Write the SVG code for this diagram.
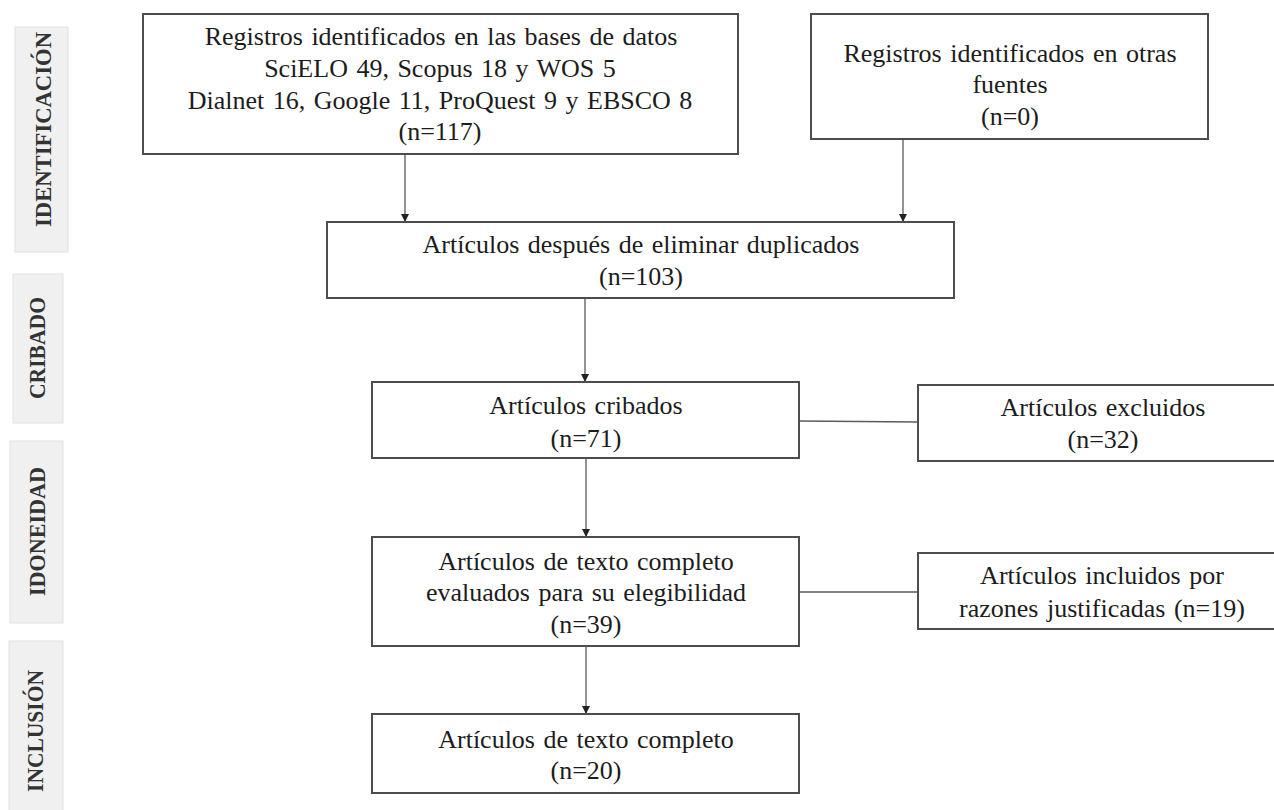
<svg xmlns="http://www.w3.org/2000/svg" width="1274" height="810" viewBox="0 0 1274 810">
  <defs>
    <style>
      .box { fill: #ffffff; stroke: #4d4d4d; stroke-width: 2; }
      .panel { fill: #f0f0f0; stroke: #e2e2e2; stroke-width: 1; }
      .t { font-family: "Liberation Serif", "Times New Roman", serif; font-size: 26px; fill: #1c1c1c; text-anchor: middle; word-spacing: 2px; }
      .p { font-family: "Liberation Serif", "Times New Roman", serif; font-size: 23px; font-weight: bold; fill: #333333; text-anchor: middle; }
      .c { stroke: #5a5a5a; stroke-width: 1.3; fill: none; }
    </style>
    <marker id="arr" markerUnits="userSpaceOnUse" markerWidth="8" markerHeight="8" refX="8" refY="4" orient="auto">
      <path d="M0,0 L8,4 L0,8 z" fill="#222222"/>
    </marker>
  </defs>
  <rect width="1274" height="810" fill="#ffffff"/>

  <g id="phase-identificacion">
    <rect class="panel" x="15" y="27" width="53" height="225"/>
    <text class="p" transform="translate(43,129.5) rotate(-90)" y="8" textLength="195" lengthAdjust="spacingAndGlyphs">IDENTIFICACIÓN</text>
  </g>
  <g id="phase-cribado">
    <rect class="panel" x="13" y="274" width="50" height="149"/>
    <text class="p" transform="translate(37,348) rotate(-90)" y="8" textLength="102" lengthAdjust="spacingAndGlyphs">CRIBADO</text>
  </g>
  <g id="phase-idoneidad">
    <rect class="panel" x="10" y="441" width="53" height="182"/>
    <text class="p" transform="translate(37,531.5) rotate(-90)" y="8" textLength="129" lengthAdjust="spacingAndGlyphs">IDONEIDAD</text>
  </g>
  <g id="phase-inclusion">
    <rect class="panel" x="9" y="641" width="54" height="175"/>
    <text class="p" transform="translate(35,731) rotate(-90)" y="8" textLength="122" lengthAdjust="spacingAndGlyphs">INCLUSIÓN</text>
  </g>

  <g id="connectors">
    <line class="c" x1="405" y1="155" x2="405" y2="222" marker-end="url(#arr)"/>
    <line class="c" x1="903" y1="140" x2="903" y2="222" marker-end="url(#arr)"/>
    <line class="c" x1="585" y1="299" x2="585" y2="382" marker-end="url(#arr)"/>
    <line class="c" x1="586" y1="459" x2="586" y2="537" marker-end="url(#arr)"/>
    <line class="c" x1="586" y1="647" x2="586" y2="714" marker-end="url(#arr)"/>
    <line class="c" x1="799" y1="421" x2="918" y2="422"/>
    <line class="c" x1="799" y1="592" x2="918" y2="592"/>
  </g>

  <g id="node-db">
    <rect class="box" x="143" y="14" width="595" height="140"/>
    <text class="t" x="441" y="45">Registros identificados en las bases de datos</text>
    <text class="t" x="440" y="77">SciELO 49, Scopus 18 y WOS 5</text>
    <text class="t" x="440" y="109">Dialnet 16, Google 11, ProQuest 9 y EBSCO 8</text>
    <text class="t" x="440" y="140">(n=117)</text>
  </g>
  <g id="node-otras">
    <rect class="box" x="811" y="14" width="397" height="125"/>
    <text class="t" x="1010" y="62">Registros identificados en otras</text>
    <text class="t" x="1010" y="93">fuentes</text>
    <text class="t" x="1010" y="125">(n=0)</text>
  </g>
  <g id="node-duplicados">
    <rect class="box" x="327" y="222" width="627" height="76"/>
    <text class="t" x="641" y="253">Artículos después de eliminar duplicados</text>
    <text class="t" x="641" y="285">(n=103)</text>
  </g>
  <g id="node-cribados">
    <rect class="box" x="372" y="382" width="427" height="76"/>
    <text class="t" x="586" y="414">Artículos cribados</text>
    <text class="t" x="586" y="447">(n=71)</text>
  </g>
  <g id="node-excluidos">
    <rect class="box" x="918" y="385" width="372" height="76"/>
    <text class="t" x="1103" y="416">Artículos excluidos</text>
    <text class="t" x="1103" y="448">(n=32)</text>
  </g>
  <g id="node-elegibilidad">
    <rect class="box" x="372" y="537" width="427" height="109"/>
    <text class="t" x="586" y="570">Artículos de texto completo</text>
    <text class="t" x="586" y="601">evaluados para su elegibilidad</text>
    <text class="t" x="586" y="633">(n=39)</text>
  </g>
  <g id="node-incluidos">
    <rect class="box" x="918" y="553" width="372" height="76"/>
    <text class="t" x="1102" y="584">Artículos incluidos por</text>
    <text class="t" x="1102" y="617">razones justificadas (n=19)</text>
  </g>
  <g id="node-final">
    <rect class="box" x="372" y="714" width="427" height="79"/>
    <text class="t" x="586" y="748">Artículos de texto completo</text>
    <text class="t" x="586" y="779">(n=20)</text>
  </g>
</svg>
